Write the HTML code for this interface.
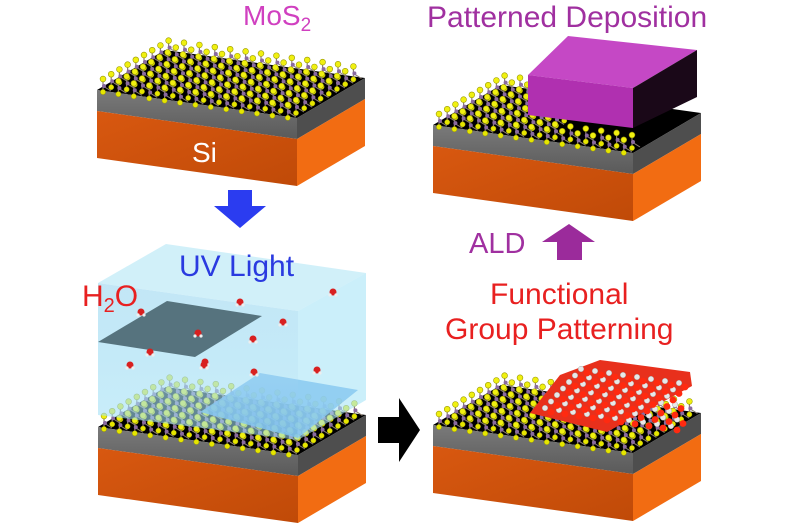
<!DOCTYPE html>
<html><head><meta charset="utf-8"><style>
html,body{margin:0;padding:0;background:#fff;}
svg{display:block}
text{font-family:"Liberation Sans",sans-serif;}
</style></head><body>
<svg id="s" width="800" height="530" viewBox="0 0 800 530" xmlns="http://www.w3.org/2000/svg">
<defs>
<linearGradient id="gf" x1="0" y1="0" x2="0" y2="1"><stop offset="0" stop-color="#7a7a7a"/><stop offset="1" stop-color="#5a5a5a"/></linearGradient>
<linearGradient id="of" x1="0" y1="0" x2="1" y2="1"><stop offset="0" stop-color="#d85810"/><stop offset="1" stop-color="#c04a08"/></linearGradient>
<linearGradient id="wb" x1="0" y1="0" x2="0" y2="1"><stop offset="0" stop-color="#b8e2f4" stop-opacity="0.85"/><stop offset="1" stop-color="#9fe0f6" stop-opacity="0.55"/></linearGradient>
</defs>
<g id="g"></g>
<text x="243" y="25" font-size="28" fill="#d040c0">MoS<tspan font-size="19" dy="6">2</tspan></text>
<text x="192" y="162" font-size="28" fill="#fff">Si</text>
<text x="179" y="276" font-size="30" fill="#2a3ae0">UV Light</text>
<text x="82" y="306" font-size="30" fill="#e82020">H<tspan font-size="20" dy="6">2</tspan><tspan dy="-6">O</tspan></text>
<text x="427" y="27" font-size="30" fill="#a030a0">Patterned Deposition</text>
<text x="469" y="253" font-size="29" fill="#a030a0">ALD</text>
<text x="490" y="304" font-size="30" fill="#e82020">Functional</text>
<text x="445" y="339" font-size="30" fill="#e82020">Group Patterning</text>
</svg>
<script>
var g=document.getElementById('g');var NS='http://www.w3.org/2000/svg';
function el(t,a){var e=document.createElementNS(NS,t);for(var k in a)e.setAttribute(k,a[k]);g.appendChild(e);return e;}
function poly(pts,f,extra){var a={points:pts.map(function(p){return p[0]+','+p[1]}).join(' '),fill:f};for(var k in extra)a[k]=extra[k];return el('polygon',a);}
var U=[200,28],D=[68,-40];
function block(x,y){
 var FL=[x,y],FR=[x+U[0],y+U[1]],BR=[FR[0]+D[0],FR[1]+D[1]],BL=[x+D[0],y+D[1]];
 var gh=21,oh=47;
 poly([FL,FR,BR,BL],'#000');
 poly([FL,FR,[FR[0],FR[1]+gh],[x,y+gh]],'url(#gf)');
 poly([FR,BR,[BR[0],BR[1]+gh],[FR[0],FR[1]+gh]],'#4e4e4e');
 poly([[x,y+gh],[FR[0],FR[1]+gh],[FR[0],FR[1]+gh+oh],[x,y+gh+oh]],'url(#of)');
 poly([[FR[0],FR[1]+gh],[BR[0],BR[1]+gh],[BR[0],BR[1]+gh+oh],[FR[0],FR[1]+gh+oh]],'#f26c12');
}
function lattice(x,y,skip){
 var u=[15.4,2.15],v=[8.2,-4.8];
 for(var j=8;j>=0;j--){for(var i=0;i<13;i++){
  var px=x+6+i*u[0]+j*v[0], py=y+2+i*u[1]+j*v[1];
  if(skip&&skip(i,j))continue;
  el('line',{x1:px,y1:py,x2:px,y2:py-13,stroke:'#8c7f70','stroke-width':1.2});
  el('line',{x1:px,y1:py-6,x2:px+8,y2:py-1,stroke:'#8c7f70','stroke-width':1});
  el('circle',{cx:px,cy:py,r:2.6,fill:'#e6e600',stroke:'#9a9a00','stroke-width':0.5});
  el('circle',{cx:px+1,cy:py-6,r:2,fill:'#8a6aa0'});
  el('circle',{cx:px,cy:py-13,r:2.9,fill:'#f0f010',stroke:'#9a9a00','stroke-width':0.6});
 }}
}
block(97,90);block(433,125);block(98,427);block(433,425);
lattice(97,90);lattice(433,125,function(i,j){return i>6&&j>1;});lattice(98,427);lattice(433,425);
poly([[528,75],[633,88],[697,50],[568,36]],'#c548c5');
poly([[528,75],[633,88],[633,128],[528,115]],'#b030b0');
poly([[633,88],[697,50],[697,97],[633,128]],'#1a0818');
poly([[530,413],[607,432],[692,386],[690,372],[600,360],[560,375]],'#e8301c');
for(var b=0;b<7;b++){for(var a=0;a<10;a++){var px=545+a*14+b*6,py=408+a*2-b*6.5;
 if(px>680||py<366)continue;
 el('circle',{cx:px+6,cy:py+4,r:3.4,fill:'#ff2a10'});
 el('circle',{cx:px,cy:py,r:2.8,fill:'#e8e8e8',stroke:'#999','stroke-width':0.4});}}
poly([[200,412],[298,438],[358,390],[260,373]],'#5aa0e8',{'fill-opacity':0.85});
poly([[98,283],[298,311],[366,273],[166,244]],'#c6ecf8',{'fill-opacity':0.8});
poly([[98,283],[298,311],[298,440],[98,415]],'url(#wb)');
poly([[298,311],[366,273],[366,400],[298,440]],'#a8e4f6',{'fill-opacity':0.6});
poly([[98,342],[195,357],[262,316],[167,301]],'#4a6670',{'fill-opacity':0.9});
[[141,312],[150,352],[205,362],[240,302],[283,322],[333,292],[198,333],[204,365],[254,372],[253,339],[317,370],[130,365]].forEach(function(p){
 el('circle',{cx:p[0],cy:p[1],r:3.5,fill:'#d82020'});el('circle',{cx:p[0]-3,cy:p[1]+3,r:1.6,fill:'#eee'});el('circle',{cx:p[0]+3,cy:p[1]+3,r:1.6,fill:'#eee'});});
poly([[228,190],[252,190],[252,206],[266,206],[240,228],[214,206],[228,206]],'#2b3cf0');
poly([[378,417],[399,417],[399,398],[420,430],[399,462],[399,443],[378,443]],'#000');
poly([[557,260],[582,260],[582,242],[595,242],[569,224],[542,242],[557,242]],'#9b2b9b');
</script>
</body></html>
